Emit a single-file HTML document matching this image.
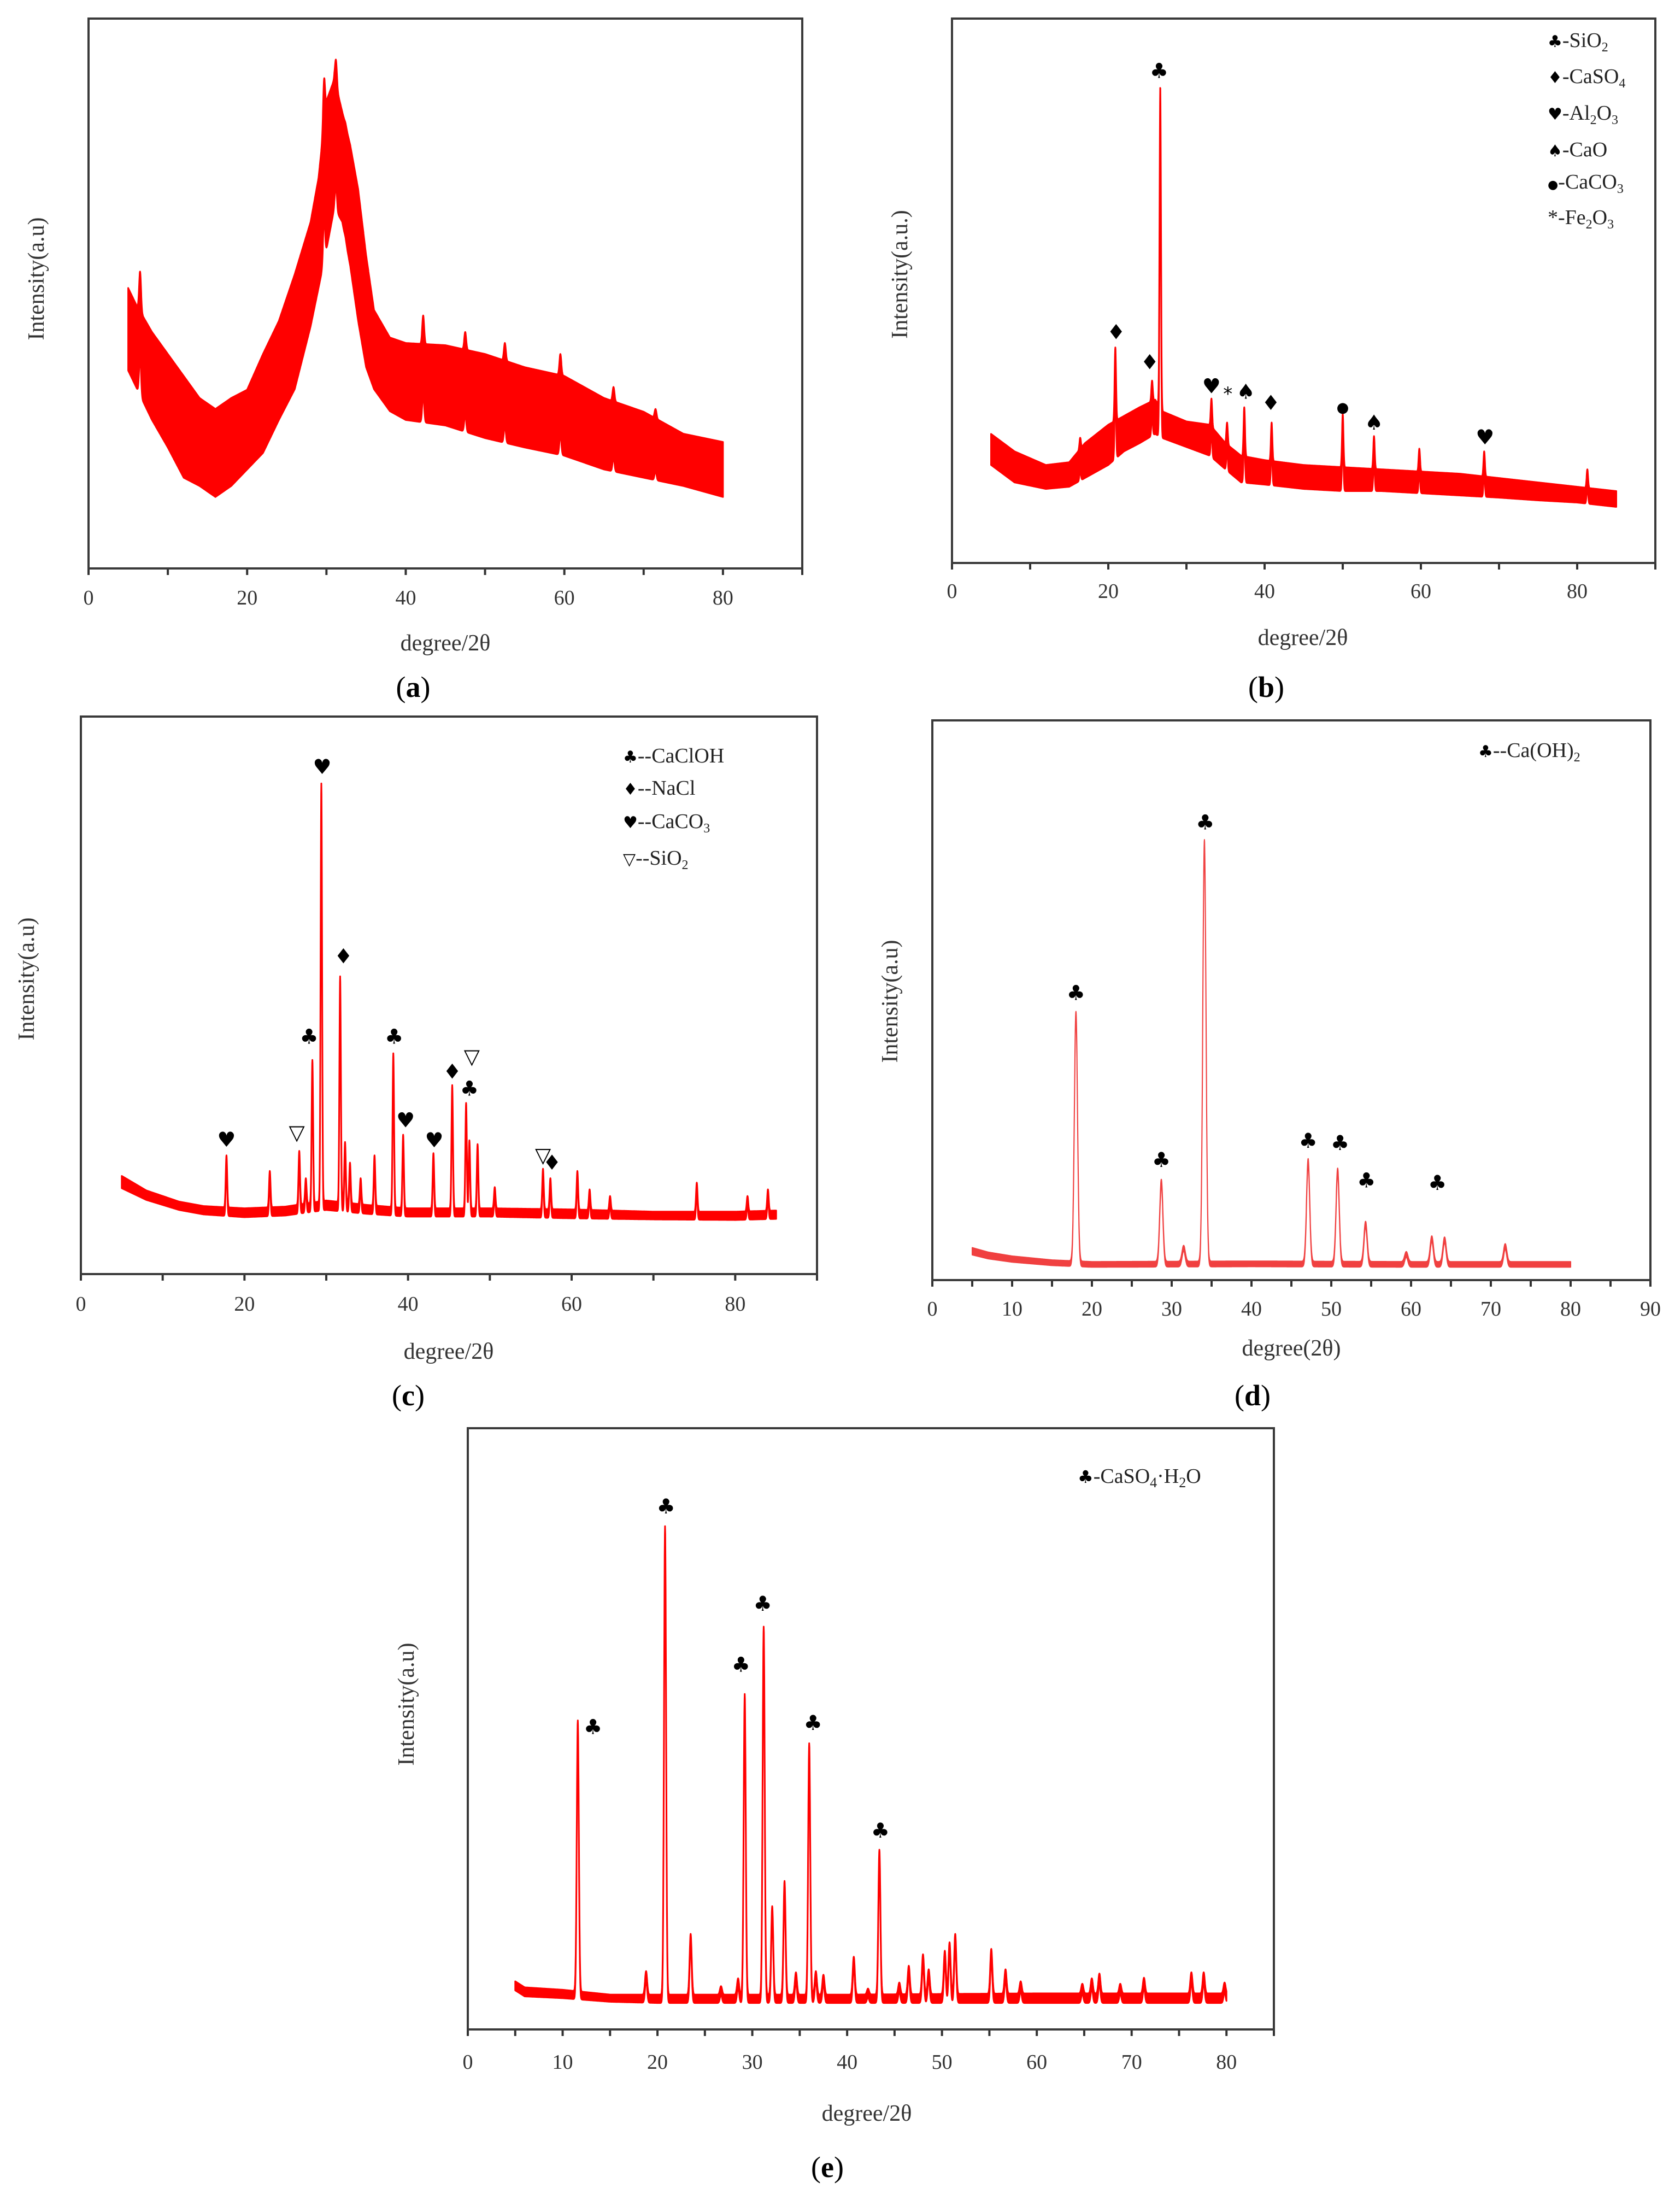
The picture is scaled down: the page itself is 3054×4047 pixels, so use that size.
<!DOCTYPE html>
<html><head><meta charset="utf-8"><style>
html,body{margin:0;padding:0;background:#fff}
svg{display:block}
.tick{font-family:"Liberation Serif",serif;font-size:38px;fill:#333}
.ttl{font-family:"Liberation Serif",serif;font-size:42px;fill:#333}
.lab{font-family:"Liberation Serif",serif;font-size:54px;fill:#000}
.leg{font-family:"Liberation Serif",serif;font-size:38px;fill:#222}
.sym{font-family:"DejaVu Sans",sans-serif;fill:#000}
</style></head><body>
<svg id="fig" xmlns="http://www.w3.org/2000/svg" width="3054" height="4047" viewBox="0 0 3054 4047">
<rect width="3054" height="4047" fill="#fff"/>
<g id="layer"></g>
<text class="lab" x="756" y="1275" text-anchor="middle">(<tspan font-weight="bold">a</tspan>)</text>
<text class="lab" x="2317" y="1275" text-anchor="middle">(<tspan font-weight="bold">b</tspan>)</text>
<text class="lab" x="747" y="2571" text-anchor="middle">(<tspan font-weight="bold">c</tspan>)</text>
<text class="lab" x="2292" y="2571" text-anchor="middle">(<tspan font-weight="bold">d</tspan>)</text>
<text class="lab" x="1514" y="3983" text-anchor="middle">(<tspan font-weight="bold">e</tspan>)</text>
<g>
<text class="leg" x="2832" y="86"><tspan class="sym" font-size="30">♣</tspan>-SiO<tspan font-size="24" dy="8">2</tspan></text>
<text class="leg" x="2832" y="152"><tspan class="sym" font-size="30">♦</tspan>-CaSO<tspan font-size="24" dy="8">4</tspan></text>
<text class="leg" x="2832" y="219"><tspan class="sym" font-size="30">♥</tspan>-Al<tspan font-size="24" dy="8">2</tspan><tspan dy="-8">O</tspan><tspan font-size="24" dy="8">3</tspan></text>
<text class="leg" x="2832" y="286"><tspan class="sym" font-size="30">♠</tspan>-CaO</text>
<text class="leg" x="2832" y="345"><tspan class="sym" font-size="22">●</tspan>-CaCO<tspan font-size="24" dy="8">3</tspan></text>
<text class="leg" x="2832" y="410">*-Fe<tspan font-size="24" dy="8">2</tspan><tspan dy="-8">O</tspan><tspan font-size="24" dy="8">3</tspan></text>
</g>
<g>
<text class="leg" x="1140" y="1395"><tspan class="sym" font-size="30">♣</tspan>--CaClOH</text>
<text class="leg" x="1140" y="1454"><tspan class="sym" font-size="30">♦</tspan>--NaCl</text>
<text class="leg" x="1140" y="1515"><tspan class="sym" font-size="30">♥</tspan>--CaCO<tspan font-size="24" dy="8">3</tspan></text>
<text class="leg" x="1140" y="1582"><tspan class="sym" font-size="30">▽</tspan>--SiO<tspan font-size="24" dy="8">2</tspan></text>
</g>
<g>
<text class="leg" x="2705" y="1385"><tspan class="sym" font-size="30">♣</tspan>--Ca(OH)<tspan font-size="24" dy="8">2</tspan></text>
</g>
<g>
<text class="leg" x="1972" y="2713" font-size="40"><tspan class="sym" font-size="32">♣</tspan>-CaSO<tspan font-size="26" dy="8">4</tspan><tspan dy="-8">·H</tspan><tspan font-size="26" dy="8">2</tspan><tspan dy="-8">O</tspan></text>
</g>
</svg>
<script>
// ---------- Panel (a) data ----------
const aEnvDeg = [5,6,8,10,12,14,16,18,20,22,24,26,28,29,30,31,32,33,34,35,36,38,40,45,50,55,60,65,70,75,80];
const aUpper  = [51,48,43,39,35,31,29,31,32.5,39,45,53.5,63,71,85,89,83,77,69,57,47,42,41,40.6,39,36.6,35,31,28.5,24.5,23];
const aLower  = [36,33,27,22,16.5,15,13,15,18,21,27,32.6,44,51,58,65.6,63,55,45,36.6,32.6,28.6,27,26,23.7,22,20.5,18,16.5,15,13];
const aPeakDeg = [6.5,9.5,11.5,23.5,27.2,29.7,30.4,31.2,32.4,42.2,47.5,52.5,59.5,66.2,71.5];
const aPeakTop = [54,40,36,43,58,89,86,92.5,81,46,43,41,39,33,29];
// ---------- Panel (b) data ----------
const bEnvDeg = [5,8,12,15,17,20,22,24,26,27,30,33,35,37,40,45,50,55,60,65,70,75,80,85];
const bUpper  = [23.7,20.5,18,18.5,22,25.4,27,28.6,30,27.8,26,25.4,22,19.7,18.9,18,17.6,17.2,16.8,16.4,15.6,14.8,14,13.2];
const bLower  = [18,14.8,13.6,14,15.6,18,20.5,22,23.7,22.9,21.3,19.7,17.2,14.8,14.4,13.6,13.2,13.2,12.8,12.4,12,11.5,11.1,10.3];
const bPeakDeg = [16.4,20.9,25.6,26.65,33.2,35.2,37.4,40.9,50.0,54.0,59.8,68.1,81.3];
const bPeakTop = [23,39.6,33.5,87.6,30.2,25.8,28.6,25.8,27.4,23.3,21,20.5,17.2];
const bMarkDeg = [26.5,21.0,25.3,33.2,35.3,37.6,40.8,50.0,54.0,68.2];
const bMarkVal = [90.4,42.4,36.9,32.5,31.2,31.5,29.4,29,25.8,23.1];
const bMarkSym = ["♣","♦","♦","♥","*","♠","♦","●","♠","♥"];
// ---------- Panel (c) data ----------
const cEnvDeg = [5,8,12,15,20,25,30,35,40,50,60,70,80,85];
const cUpper  = [17.6,15,13,12.2,11.8,12.1,13.2,12.4,11.8,11.8,11.6,11.2,11.2,11.4];
const cLower  = [15.4,13.3,11.5,10.7,10.2,10.5,11.5,10.8,10.3,10.3,10,9.8,9.7,9.9];
const cPeakDeg = [17.8,23.1,26.7,27.5,28.3,29.4,31.7,32.3,32.9,34.2,35.9,38.2,39.4,43.1,45.4,47.1,47.5,48.5,50.6,56.5,57.4,60.7,62.2,64.7,75.3,81.5,84.0];
const cPeakTop = [21.3,18.5,22.1,17.2,38.4,88,53.4,23.7,20,17.2,21.3,39.6,25,21.7,33.9,30.7,24,23.3,15.6,18.9,17.2,18.5,15.2,14,16.4,14,15.2];
const cMarkDeg = [17.8,26.4,27.9,29.5,32.1,38.3,39.7,43.2,45.4,47.8,47.5,56.5,57.6];
const cMarkVal = [24.1,25.4,42.6,91,57,42.6,27.6,24,36.3,39,33.3,21.3,20];
const cMarkSym = ["♥","▽","♣","♥","♦","♣","♥","♥","♦","▽","♣","▽","♦"];
// ---------- Panel (d) data ----------
const dEnvDeg = [5,7,10,15,20,40,60,80];
const dUpper  = [5.8,5,4.3,3.6,3.3,3.4,3.3,3.3];
const dLower  = [4.5,3.8,3.2,2.6,2.3,2.4,2.3,2.3];
const dPeakDeg = [18.0,28.7,31.5,34.1,47.1,50.8,54.3,59.4,62.6,64.2,71.8];
const dPeakTop = [48,18,6.2,78.7,21.7,20,10.5,5.1,7.9,7.7,6.5];
const dMarkDeg = [18,28.7,34.2,47.1,51.1,54.4,63.3];
const dMarkVal = [51.3,21.5,81.8,24.9,24.5,17.8,17.4];
const dMarkSym = ["♣","♣","♣","♣","♣","♣","♣"];
// ---------- Panel (e) data ----------
const eEnvDeg = [5,6,10,15,20,40,60,80];
const eUpper  = [8,7,6.6,5.8,5.8,5.8,6,6];
const eLower  = [6.5,5.5,5.2,4.6,4.4,4.4,4.4,4.4];
const ePeakDeg = [11.6,18.8,20.8,23.5,26.7,28.5,29.2,31.2,32.1,33.4,34.6,36.0,36.7,37.5,40.7,42.2,43.4,45.5,46.5,48.0,48.6,50.3,50.8,51.4,55.2,56.7,58.3,64.8,65.8,66.6,68.8,71.3,76.3,77.6,79.8];
const ePeakTop = [51.4,9.7,83.7,15.9,7.2,8.5,55.8,67,20.5,24.7,9.5,47.6,9.7,9.1,12.1,6.8,29.9,7.8,10.6,12.5,10,13.1,14.5,15.9,13.4,10,8,7.6,8.5,9.3,7.6,8.6,9.5,9.5,7.8];
const eMarkDeg = [13.2,20.9,28.8,31.1,36.4,43.5];
const eMarkVal = [50.3,87,60.7,70.8,51,33.1];
const eMarkSym = ["♣","♣","♣","♣","♣","♣"];

const NS = "http://www.w3.org/2000/svg";
const layer = document.getElementById("layer");
function mk(tag, attrs, parent) {
  const el = document.createElementNS(NS, tag);
  for (const k in attrs) el.setAttribute(k, attrs[k]);
  (parent || layer).appendChild(el);
  return el;
}
function interp(xs, ys, x) {
  if (x <= xs[0]) return ys[0];
  for (let i = 1; i < xs.length; i++) {
    if (x <= xs[i]) { const t = (x - xs[i-1]) / (xs[i] - xs[i-1]); return ys[i-1] + t * (ys[i] - ys[i-1]); }
  }
  return ys[ys.length - 1];
}
function drawPanel(p) {
  const g = mk("g", {});
  
  
  const xs = v => p.L + (v / p.xmax) * (p.R - p.L);
  const ys = v => p.B - (v / 100) * (p.B - p.T);
  for (let v = 0; v <= p.xmax + 0.001; v += p.tickStep) {
    const t = mk("line", {x1: xs(v), x2: xs(v), y1: p.B, y2: p.B + 12, stroke: "#333", "stroke-width": 4}, g);
    
    
  }
  for (let v = 0; v <= p.xmax + 0.001; v += p.labelStep) {
    const t = mk("text", {x: xs(v), y: p.tickY, "text-anchor": "middle", class: "tick"}, g);
    t.textContent = String(v);
    
    
  }
  const up = [], lo = [];
  const amps = p.peakDeg.map((d, i) => Math.max(0, p.peakTop[i] - interp(p.env, p.upper, d)));
  for (let x = 5; x <= p.xEnd + 1e-6; x += 0.02) {
    let add = 0;
    for (let i = 0; i < p.peakDeg.length; i++) {
      const z = (x - p.peakDeg[i]) / p.sigma;
      if (Math.abs(z) < 6) add += amps[i] * Math.exp(-0.5 * z * z);
    }
    up.push(xs(x).toFixed(1) + "," + ys(interp(p.env, p.upper, x) + add).toFixed(1));
    lo.push(xs(x).toFixed(1) + "," + ys(interp(p.env, p.lower, x) + add).toFixed(1));
  }
  const poly = mk("polygon", {points: up.concat(lo.reverse()).join(" "), fill: p.color, stroke: p.color, "stroke-width": p.sw, "stroke-linejoin": "round"}, g);
  
  
  if (p.markDeg) {
    for (let i = 0; i < p.markDeg.length; i++) {
      const s = p.markSym[i];
      const m = mk("text", {x: xs(p.markDeg[i]), y: ys(p.markVal[i]) + 13, "text-anchor": "middle", class: "sym",
        "font-size": s === "●" ? 26 : (s === "*" ? 34 : 38), fill: s === "*" ? "#777" : "#000"}, g);
      m.textContent = s;
      
      
    }
  }
  const f = mk("rect", {x: p.L, y: p.T, width: p.R - p.L, height: p.B - p.T, fill: "none", stroke: "#3a3a3a", "stroke-width": 4}, g);
  
  
  const xt = mk("text", {x: p.titleX, y: p.titleY, "text-anchor": "middle", class: "ttl"}, g);
  xt.textContent = p.xTitle;
  
  
  const yt = mk("text", {x: 0, y: 0, "text-anchor": "middle", class: "ttl", transform: "translate(" + p.ylX + "," + p.ylY + ") rotate(-90)"}, g);
  yt.textContent = p.yTitle;
  
  
}
drawPanel({name: "panel-a", L: 162, T: 34, R: 1468, B: 1040, xmax: 90, xEnd: 80, tickStep: 10, labelStep: 20, tickY: 1106,
  env: aEnvDeg, upper: aUpper, lower: aLower, peakDeg: aPeakDeg, peakTop: aPeakTop, sigma: 0.12, color: "#ff0000", sw: 3,
  titleX: 815, titleY: 1190, xTitle: "degree/2θ", ylX: 80, ylY: 510, yTitle: "Intensity(a.u)"});
drawPanel({name: "panel-b", L: 1742, T: 34, R: 3029, B: 1030, xmax: 90, xEnd: 85, tickStep: 10, labelStep: 20, tickY: 1094,
  env: bEnvDeg, upper: bUpper, lower: bLower, peakDeg: bPeakDeg, peakTop: bPeakTop, sigma: 0.09, color: "#ff0000", sw: 3,
  markDeg: bMarkDeg, markVal: bMarkVal, markSym: bMarkSym,
  titleX: 2384, titleY: 1180, xTitle: "degree/2θ", ylX: 1660, ylY: 502, yTitle: "Intensity(a.u.)"});
drawPanel({name: "panel-c", L: 148, T: 1311, R: 1495, B: 2331, xmax: 90, xEnd: 85, tickStep: 10, labelStep: 20, tickY: 2398,
  env: cEnvDeg, upper: cUpper, lower: cLower, peakDeg: cPeakDeg, peakTop: cPeakTop, sigma: 0.09, color: "#ff0000", sw: 3,
  markDeg: cMarkDeg, markVal: cMarkVal, markSym: cMarkSym,
  titleX: 821, titleY: 2486, xTitle: "degree/2θ", ylX: 62, ylY: 1791, yTitle: "Intensity(a.u)"});
drawPanel({name: "panel-d", L: 1706, T: 1318, R: 3020, B: 2342, xmax: 90, xEnd: 80, tickStep: 5, labelStep: 10, tickY: 2407,
  env: dEnvDeg, upper: dUpper, lower: dLower, peakDeg: dPeakDeg, peakTop: dPeakTop, sigma: 0.2, color: "#f04040", sw: 2,
  markDeg: dMarkDeg, markVal: dMarkVal, markSym: dMarkSym,
  titleX: 2363, titleY: 2480, xTitle: "degree(2θ)", ylX: 1642, ylY: 1832, yTitle: "Intensity(a.u)"});
drawPanel({name: "panel-e", L: 856, T: 2613, R: 2331, B: 3713, xmax: 85, xEnd: 80, tickStep: 5, labelStep: 10, tickY: 3785,
  env: eEnvDeg, upper: eUpper, lower: eLower, peakDeg: ePeakDeg, peakTop: ePeakTop, sigma: 0.11, color: "#ff0000", sw: 3,
  markDeg: eMarkDeg, markVal: eMarkVal, markSym: eMarkSym,
  titleX: 1586, titleY: 3880, xTitle: "degree/2θ", ylX: 757, ylY: 3118, yTitle: "Intensity(a.u)"});
</script>
</body></html>
